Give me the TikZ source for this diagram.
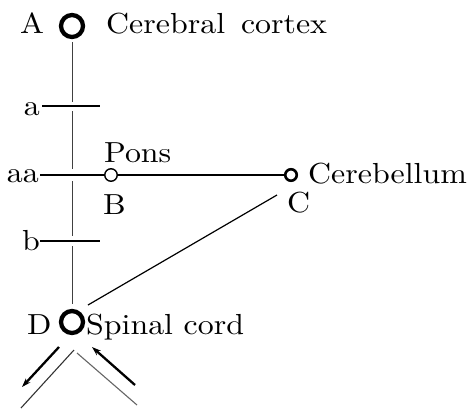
\documentclass[tikz,border=0pt]{standalone}
\usepackage{fontspec}
\setmainfont{lmroman10-regular.otf}[FakeStretch=1.1]
\usetikzlibrary{arrows.meta}
\begin{document}
\begin{tikzpicture}[x=1pt,y=-1pt,
  lbl/.style={anchor=base west, inner sep=0pt, font=\fontsize{29}{32}\selectfont},
  rlbl/.style={anchor=base east, inner sep=0pt, font=\fontsize{29}{32}\selectfont},
  bigcell/.style={circle, draw=black, line width=4.3pt, minimum size=22pt, inner sep=0pt},
  smallcell/.style={circle, draw=black, line width=1.4pt, minimum size=12.5pt, inner sep=0pt},
  midcell/.style={circle, draw=black, line width=2.6pt, minimum size=11.5pt, inner sep=0pt},
  fibre/.style={draw=black!75, line width=0.9pt},
  tick/.style={draw=black, line width=1.2pt},
  thickarrow/.style={draw=black, line width=2.3pt, -{Stealth[length=9pt,width=6pt]}},
  thinline/.style={draw=black!80, line width=1.1pt}]
\useasboundingbox (0,0) rectangle (469,408);
% cells
\node[bigcell] (A) at (72,26) {};
\node[bigcell] (D) at (72,322) {};
\node[smallcell] (B) at (111,175) {};
\node[midcell] (C) at (291,175) {};
% labels
\node[lbl] (lA) at (20,33) {A};
\node[lbl] (lcc) at (106,33) {Cerebral\hspace{0.55em}cortex};
\node[lbl] (lpons) at (104,162) {Pons};
\node[lbl] (lB) at (103,214) {B};
\node[lbl] (lcer) at (308,183) {Cerebellum};
\node[lbl] (lC) at (287,212) {C};
\node[lbl] (lD) at (27,334) {D};
\node[lbl] (lsc) at (86,334) {Spinal cord};
\node[rlbl] (la) at (40,115) {a};
\node[rlbl] (laa) at (39,182) {aa};
\node[rlbl] (lb) at (40,250) {b};
% tick coordinates
\coordinate (ta1) at (42,106); \coordinate (ta2) at (100,106);
\coordinate (taa1) at (40,175);
\coordinate (tb1) at (40,241); \coordinate (tb2) at (100,241);
% vertical fibre segments
\coordinate (v1) at (72,102); \coordinate (v2) at (72,111);
\coordinate (v3) at (72,169); \coordinate (v4) at (72,181);
\coordinate (v5) at (72,236); \coordinate (v6) at (72,246);
\coordinate (v7) at (72,304);
\draw[fibre] (A.south) ++(0,3) -- (v1);
\draw[fibre] (v2) -- (v3);
\draw[fibre] (v4) -- (v5);
\draw[fibre] (v6) -- (v7);
% ticks
\draw[tick] (ta1) -- (ta2);
\draw[tick] (taa1) -- (B.west);
\draw[tick] (tb1) -- (tb2);
% B to C
\draw[tick] (B.east) -- (C.west);
% C to D diagonal
\coordinate (c1) at (277,195); \coordinate (d1) at (88,305);
\draw[tick] (c1) -- (d1);
% bottom fibres
\coordinate (l1s) at (59,347); \coordinate (l1e) at (22,387);
\coordinate (l2s) at (74,350); \coordinate (l2e) at (21,408);
\coordinate (l3s) at (77,353); \coordinate (l3e) at (137,405);
\coordinate (l4s) at (135,385); \coordinate (l4e) at (92,347);
\draw[thickarrow] (l1s) -- (l1e);
\draw[thinline] (l2s) -- (l2e);
\draw[thinline, draw=black!60] (l3s) -- (l3e);
\draw[thickarrow] (l4s) -- (l4e);
\end{tikzpicture}
\end{document}
